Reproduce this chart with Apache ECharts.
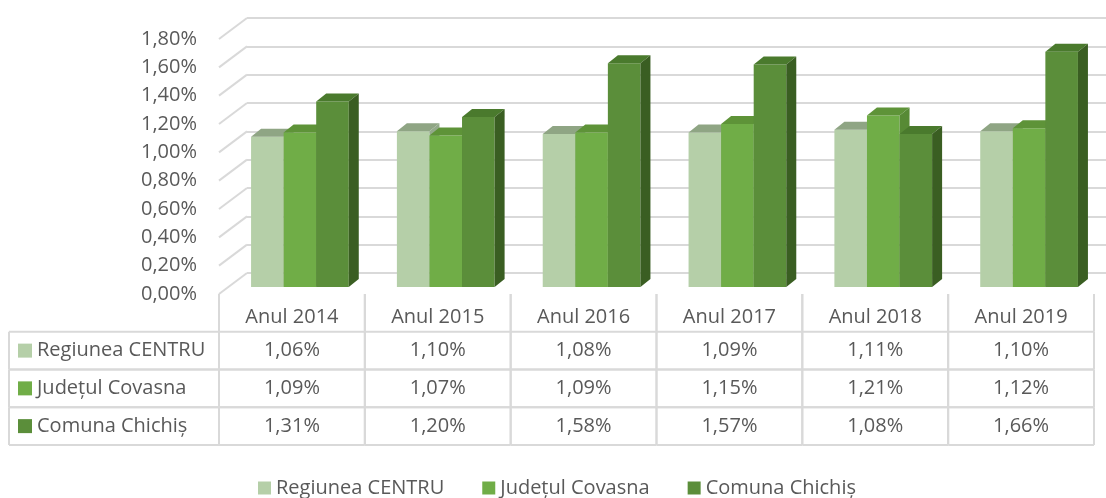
<!DOCTYPE html>
<html>
<head>
<meta charset="utf-8">
<script src="https://cdn.jsdelivr.net/npm/echarts@6/dist/echarts.min.js"></script>
<style>
  html, body { margin: 0; padding: 0; background: #fff; }
  #chart { width: 1106px; height: 498px; }
</style>
</head>
<body>
<div id="chart"></div>
<script type="text/javascript">

	// chart data
	var years = ['Anul 2014', 'Anul 2015', 'Anul 2016', 'Anul 2017', 'Anul 2018', 'Anul 2019'];
	var seriesNames = ['Regiunea CENTRU', 'Județul Covasna', 'Comuna Chichiș'];
	var regiuneaCentru = [1.06, 1.10, 1.08, 1.09, 1.11, 1.10];
	var judetulCovasna = [1.09, 1.07, 1.09, 1.15, 1.21, 1.12];
	var comunaChichis = [1.31, 1.20, 1.58, 1.57, 1.08, 1.66];
	var yTicks = [0, 0.2, 0.4, 0.6, 0.8, 1.0, 1.2, 1.4, 1.6, 1.8];

	var allValues = [regiuneaCentru, judetulCovasna, comunaChichis];

	// look
	var txtColor = '#595959';
	var lineColor = '#d9d9d9';
	var fontFamily = 'Open Sans';
	var fontSize = 20;
	var fronts = ['#b5cfa8', '#70ad47', '#5b8e3a'];
	var tops = ['#8fa584', '#5e9338', '#4a7a2d'];
	var sides = ['#93a98a', '#578a35', '#3a5e22'];

	var depthX = 28, depthY = 21;      // full depth of the 3D box
	var barDepthX = 10, barDepthY = 8; // depth of one bar
	var gapRatio = 0.33;
	var nameColW = 210;

	function pct(v) {
		return v.toFixed(2).replace('.', ',') + '%';
	}

	var chart = echarts.init(document.getElementById('chart'));

	function barItem(s) {
		return function (params, api) {
			var idx = api.value(0);
			var p0 = api.coord([idx, 0]);
			var p1 = api.coord([idx, api.value(1)]);
			var band = api.size([1, 0])[0];
			var groupW = band * (1 - gapRatio);
			var barW = groupW / 3;
			var x0 = p0[0] - groupW / 2 + s * barW;
			var x1 = x0 + barW;
			var yT = p1[1], yB = p0[1];
			return {
				type: 'group',
				children: [
					{ type: 'rect', shape: { x: x0, y: yT, width: barW, height: yB - yT },
					  style: { fill: fronts[s] } },
					{ type: 'polygon', shape: { points: [[x0, yT], [x1, yT], [x1 + barDepthX, yT - barDepthY], [x0 + barDepthX, yT - barDepthY]] },
					  style: { fill: tops[s] } },
					{ type: 'polygon', shape: { points: [[x1, yT], [x1 + barDepthX, yT - barDepthY], [x1 + barDepthX, yB - barDepthY], [x1, yB]] },
					  style: { fill: sides[s] } }
				]
			};
		};
	}

	var barSeries = [];
	for (var s = 0; s < 3; s++) {
		barSeries.push({
			name: seriesNames[s],
			type: 'custom',
			xAxisIndex: 1,
			yAxisIndex: 1,
			itemStyle: { color: fronts[s] },
			renderItem: barItem(s),
			data: allValues[s].map(function (v, i) { return [i, v]; }),
			z: 5
		});
	}

	// table cells: row 0 = header, rows 1..3 = series
	var tableData = [];
	for (var c = 0; c < years.length; c++) {
		tableData.push([c, 0, years[c]]);
		for (var r = 0; r < 3; r++) {
			tableData.push([c, r + 1, pct(allValues[r][c])]);
		}
	}

	var lineStyle = { stroke: lineColor, lineWidth: 2 };

	chart.setOption({
		animation: false,
		grid: [
			{ left: 219, top: 39, width: 875, height: 255 },                       // front plane
			{ left: 219 + 8, top: 39 - 7, width: 875, height: 255 },               // bars
			{ left: 219 + depthX, top: 39 - depthY, width: 875, height: 255 },     // back wall
			{ left: 219, top: 294, width: 875, height: 151 }                       // data table
		],
		xAxis: [
			{ gridIndex: 0, type: 'category', data: years, show: false },
			{ gridIndex: 1, type: 'category', data: years, show: false },
			{ gridIndex: 2, type: 'value', min: 0, max: 1, show: false },
			{ gridIndex: 3, type: 'category', data: years, show: false }
		],
		yAxis: [
			{
				gridIndex: 0, type: 'value', min: 0, max: 1.8, interval: 0.2,
				axisLine: { show: false }, axisTick: { show: false }, splitLine: { show: false },
				axisLabel: {
					margin: 22, color: txtColor, fontFamily: fontFamily, fontSize: fontSize,
					formatter: function (v) { return pct(v); }
				}
			},
			{ gridIndex: 1, type: 'value', min: 0, max: 1.8, interval: 0.2, show: false },
			{
				gridIndex: 2, type: 'value', min: 0, max: 1.8, interval: 0.2,
				axisLine: { show: false }, axisTick: { show: false }, axisLabel: { show: false },
				splitLine: { lineStyle: { color: lineColor, width: 2 } }
			},
			{
				gridIndex: 3, type: 'category', inverse: true,
				data: [''].concat(seriesNames),
				axisLine: { show: false }, axisTick: { show: false },
				axisLabel: {
					align: 'left', margin: 201,
					formatter: function (v, i) {
						if (i === 0) return '';
						return '{s' + (i - 1) + '|}{t|' + v + '}';
					},
					rich: {
						s0: { width: 14, height: 14, backgroundColor: fronts[0] },
						s1: { width: 14, height: 14, backgroundColor: fronts[1] },
						s2: { width: 14, height: 14, backgroundColor: fronts[2] },
						t: { color: txtColor, fontFamily: fontFamily, fontSize: fontSize, padding: [0, 0, 0, 5] }
					}
				}
			}
		],
		legend: {
			data: seriesNames,
			left: 253,
			top: 473,
			icon: 'rect',
			itemWidth: 13,
			itemHeight: 13,
			itemGap: 38,
			textStyle: { color: txtColor, fontFamily: fontFamily, fontSize: fontSize }
		},
		series: [
			{
				// side wall lines from front plane to back wall
				type: 'custom',
				xAxisIndex: 2,
				yAxisIndex: 2,
				silent: true,
				renderItem: function (params, api) {
					var p = api.coord([0, api.value(0)]);
					return {
						type: 'line',
						shape: { x1: p[0], y1: p[1], x2: p[0] - depthX, y2: p[1] + depthY },
						style: lineStyle
					};
				},
				data: yTicks.map(function (v) { return [v]; }),
				z: 1
			}
		].concat(barSeries).concat([
			{
				type: 'custom',
				xAxisIndex: 3,
				yAxisIndex: 3,
				silent: true,
				renderItem: function (params, api) {
					var c = api.value(0), r = api.value(1);
					var p = api.coord([c, r]);
					var sz = api.size([1, 1]);
					var w = sz[0], h = sz[1];
					var xl = p[0] - w / 2, xr = p[0] + w / 2;
					var yt = p[1] - h / 2, yb = p[1] + h / 2;
					var kids = [
						{ type: 'text', style: {
							text: api.value(2), x: p[0], y: p[1] + (r === 0 ? 4 : 0),
							align: 'center', verticalAlign: 'middle',
							fill: txtColor, font: fontSize + 'px "' + fontFamily + '"'
						} },
						{ type: 'line', shape: { x1: xl, y1: yt, x2: xl, y2: yb }, style: lineStyle },
						{ type: 'line', shape: { x1: xr, y1: yt, x2: xr, y2: yb }, style: lineStyle }
					];
					if (r > 0) {
						kids.push({ type: 'line', shape: { x1: xl, y1: yt, x2: xr, y2: yt }, style: lineStyle });
						kids.push({ type: 'line', shape: { x1: xl, y1: yb, x2: xr, y2: yb }, style: lineStyle });
						if (c === 0) {
							kids.push({ type: 'line', shape: { x1: xl - nameColW, y1: yt, x2: xl, y2: yt }, style: lineStyle });
							kids.push({ type: 'line', shape: { x1: xl - nameColW, y1: yb, x2: xl, y2: yb }, style: lineStyle });
							kids.push({ type: 'line', shape: { x1: xl - nameColW, y1: yt, x2: xl - nameColW, y2: yb }, style: lineStyle });
						}
					}
					return { type: 'group', children: kids };
				},
				data: tableData,
				z: 2
			}
		])
	});

</script>
</body>
</html>
